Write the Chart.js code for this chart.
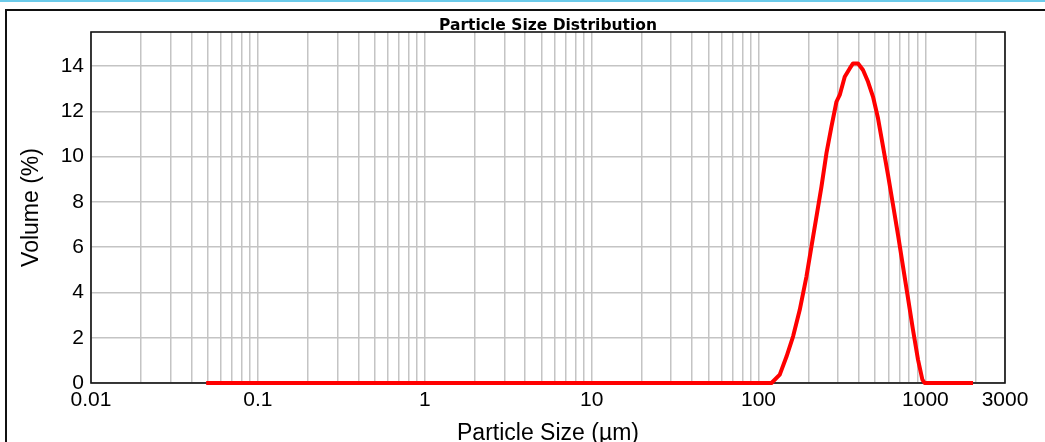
<!DOCTYPE html>
<html>
<head>
<meta charset="utf-8">
<script src="https://cdn.jsdelivr.net/npm/chart.js@4.4.1/dist/chart.umd.min.js"></script>
<style>
    html, body { margin: 0; padding: 0; background: #fff; overflow: hidden; }
    #topline { position: absolute; left: 0; top: 0; width: 1045px; height: 2px; background: #6ccbea; }
    #frame { position: absolute; left: 5px; top: 9px; width: 1200px; height: 600px; border: 2px solid #111; }
    #wrap { position: absolute; left: 0; top: 0; width: 1045px; height: 442px; }
</style>
</head>
<body>
<div id="topline"></div>
<div id="frame"></div>
<div id="wrap"><canvas id="psd" width="1045" height="442"></canvas></div>
<script>
document.addEventListener('DOMContentLoaded', function () {
    // particle size (um) and volume (%)
    const sizes = [0.049, 119.6, 134.1, 147.2, 161.2, 176.7, 193.8, 207.7, 222.5, 238.4,
        255.4, 273.6, 293.2, 306.8, 328.7, 352.2, 368.6, 394.9, 422.9, 453.3,
        485.7, 520.2, 557.5, 597.0, 639.7, 685.5, 734.5, 786.8, 842.7, 903.1,
        959.4, 990, 1930];
    const volume = [0, 0, 0.37, 1.17, 2.06, 3.23, 4.70, 6.03, 7.35, 8.67,
        10.15, 11.32, 12.42, 12.72, 13.52, 13.89, 14.11, 14.11, 13.82, 13.30,
        12.64, 11.69, 10.44, 9.19, 7.87, 6.54, 5.14, 3.75, 2.35, 1.03,
        0.15, 0, 0];

    // axis ticks
    const xDecades = [0.01, 0.1, 1, 10, 100, 1000];
    const xMultipliers = [1, 2, 3, 4, 5, 6, 7, 8, 9];
    const xMax = 3000;
    const xLabelValues = [0.01, 0.1, 1, 10, 100, 1000, 3000];
    const xLabels = ['0.01', '0.1', '1', '10', '100', '1000', '3000'];
    const yTicks = [0, 2, 4, 6, 8, 10, 12, 14];

    // one grid line per 1..9 step of each decade, up to the axis end
    const xTickValues = [];
    xDecades.forEach(d => {
        xMultipliers.forEach(m => {
            if (d * m < xMax * 0.999) xTickValues.push(d * m);
        });
    });
    xTickValues.push(xMax);

    const font = 'Liberation Sans, Arial, Helvetica, sans-serif';
    const titleFont = 'DejaVu Sans, Verdana, sans-serif';

    // black box round the plot area
    const frameBox = {
        id: 'frameBox',
        beforeDatasetsDraw(chart) {
            const a = chart.chartArea;
            const c = chart.ctx;
            c.save();
            c.strokeStyle = '#111';
            c.lineWidth = 1.6;
            c.strokeRect(a.left, a.top, a.right - a.left, a.bottom - a.top);
            c.restore();
        }
    };

    const points = sizes.map((s, i) => ({ x: s, y: volume[i] }));

    new Chart(document.getElementById('psd').getContext('2d'), {
        type: 'line',
        data: {
            datasets: [{
                label: 'Volume',
                data: points,
                borderColor: '#ff0000',
                borderWidth: 4,
                borderJoinStyle: 'round',
                pointRadius: 0,
                tension: 0,
                fill: false,
                clip: false
            }]
        },
        options: {
            responsive: false,
            animation: false,
            devicePixelRatio: 1,
            layout: { padding: { left: 0, right: 40, top: 0, bottom: 0 } },
            plugins: {
                legend: { display: false },
                tooltip: { enabled: false },
                title: {
                    display: true,
                    text: 'Particle Size Distribution',
                    fullSize: false,
                    color: '#000',
                    font: { family: titleFont, size: 15.5, weight: 'bold', lineHeight: 0.8 },
                    padding: { top: 19.4, bottom: 0.2 }
                }
            },
            scales: {
                x: {
                    type: 'logarithmic',
                    min: 0.01,
                    max: xMax,
                    afterBuildTicks: scale => {
                        scale.ticks = xTickValues.map(v => ({ value: v }));
                    },
                    afterFit: scale => { scale.height = 59; },
                    ticks: {
                        autoSkip: false,
                        maxRotation: 0,
                        padding: 5,
                        color: '#000',
                        font: { family: font, size: 21 },
                        callback: value => {
                            const i = xLabelValues.findIndex(v => Math.abs(v - value) / v < 1e-6);
                            return i >= 0 ? xLabels[i] : '';
                        }
                    },
                    grid: { color: '#c4c4c4', lineWidth: 1.5, drawTicks: false },
                    border: { display: false },
                    title: {
                        display: true,
                        text: 'Particle Size (µm)',
                        color: '#000',
                        font: { family: font, size: 23, lineHeight: 0.76 },
                        padding: 0
                    }
                },
                y: {
                    min: 0,
                    max: 15.5,
                    afterBuildTicks: scale => {
                        scale.ticks = yTicks.map(v => ({ value: v }));
                    },
                    afterFit: scale => { scale.width = 91; },
                    ticks: {
                        padding: 7,
                        color: '#000',
                        font: { family: font, size: 21 }
                    },
                    grid: { color: '#c4c4c4', lineWidth: 1.5, drawTicks: false },
                    border: { display: false },
                    title: {
                        display: true,
                        text: 'Volume (%)',
                        color: '#000',
                        font: { family: font, size: 23, lineHeight: 1.2 },
                        padding: { top: 18, bottom: 0 }
                    }
                }
            }
        },
        plugins: [frameBox]
    });
});
</script>
</body>
</html>
